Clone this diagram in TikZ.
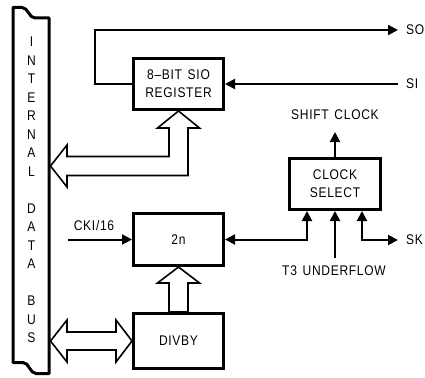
\documentclass[tikz,border=0pt]{standalone}
\usepackage{fontspec}
\setmainfont{Liberation Sans}
\newfontfamily\plotfont{Liberation Sans}[FakeStretch=0.86,LetterSpace=5,WordSpace=1.4]
\usetikzlibrary{arrows.meta,calc}
\newcommand\dgfont{\plotfont\fontsize{14}{18}\selectfont}
\newcommand\busfont{\plotfont\fontsize{14}{18.5}\selectfont}
\begin{document}
\begin{tikzpicture}[x=1pt,y=-1pt,>={Triangle[length=10pt,width=10pt]},
  box/.style={draw,line width=3pt,inner sep=0pt,align=center,font=\dgfont},
  wire/.style={line width=2pt},
  hollow/.style={draw,line width=1.6pt,line join=miter,fill=white},
  lbl/.style={font=\dgfont,inner sep=0pt},
  busline/.style={line width=3pt,line join=round}]
\useasboundingbox (0,0) rectangle (425,377);
% bus
\draw[busline] (13,7.5) -- (22,7.5) .. controls (28,7.5) and (29,18) .. (35,18) -- (49,18)
  -- (49,373.5) -- (36,373.5) .. controls (30,373.5) and (29,362.5) .. (23,362.5) -- (13,362.5) -- cycle;
\node[lbl,align=center,font=\busfont] (bus) at (31.5,190)
  {I\\N\\T\\E\\R\\N\\A\\L\\\mbox{}\\D\\A\\T\\A\\\mbox{}\\B\\U\\S};
\coordinate (busA) at (50.5,166);
\coordinate (busB) at (50.5,341);
% boxes
\node[box,minimum width=90pt,minimum height=51pt] (sio) at (178.5,84) {8–BIT SIO\\REGISTER};
\node[box,minimum width=90pt,minimum height=52pt] (twon) at (178.5,239.5) {2n};
\node[box,minimum width=90pt,minimum height=55pt] (divby) at (178.5,341) {DIVBY};
\node[box,minimum width=91pt,minimum height=51pt] (clk) at (335,184) {CLOCK\\SELECT};
% SO / SI
\coordinate (so) at (398,30);
\coordinate (si) at (398,84);
\draw[wire,->] (sio.west) -- ++(-37,0) |- (so);
\node[lbl,anchor=west] (solbl) at (406,30) {SO};
\draw[wire,->] (si) -- (sio.east);
\node[lbl,anchor=west] (silbl) at (406,84) {SI};
% shift clock
\node[lbl] (shift) at (335,115) {SHIFT CLOCK};
\draw[wire,->] (clk.north) -- ++(0,-25);
% clock select inputs
\draw[wire,<->] (twon.east) -| ([xshift=-28pt]clk.south);
\node[lbl] (t3) at (334,271) {T3 UNDERFLOW};
\draw[wire,->] ($(clk.south|-t3.north)+(0,-8)$) -- (clk.south);
\coordinate (sk) at (398,240);
\draw[wire,<->] ([xshift=27pt]clk.south) |- (sk);
\node[lbl,anchor=west] (sklbl) at (406,240) {SK};
% CKI/16
\coordinate (cki) at (68,239.5);
\draw[wire,->] (cki) -- (twon.west);
\node[lbl] (ckilbl) at (94,225) {CKI/16};
% hollow arrows
\draw[hollow] (sio.south) -- (199.5,128) -- (188,128) -- (188,175.5) -- (67,175.5) -- (67,187)
  -- (busA) -- (67,145) -- (67,156.5) -- (169,156.5) -- (169,128) -- (157.5,128) -- cycle;
\draw[hollow] (twon.south) -- (199.5,283) -- (188,283) -- (188,312) -- (169,312) -- (169,283)
  -- (157.5,283) -- cycle;
\draw[hollow] (busB) -- (67,320) -- (67,332) -- (116,332) -- (116,320) -- (divby.west)
  -- (116,362) -- (116,350) -- (67,350) -- (67,362) -- cycle;
\end{tikzpicture}
\end{document}
